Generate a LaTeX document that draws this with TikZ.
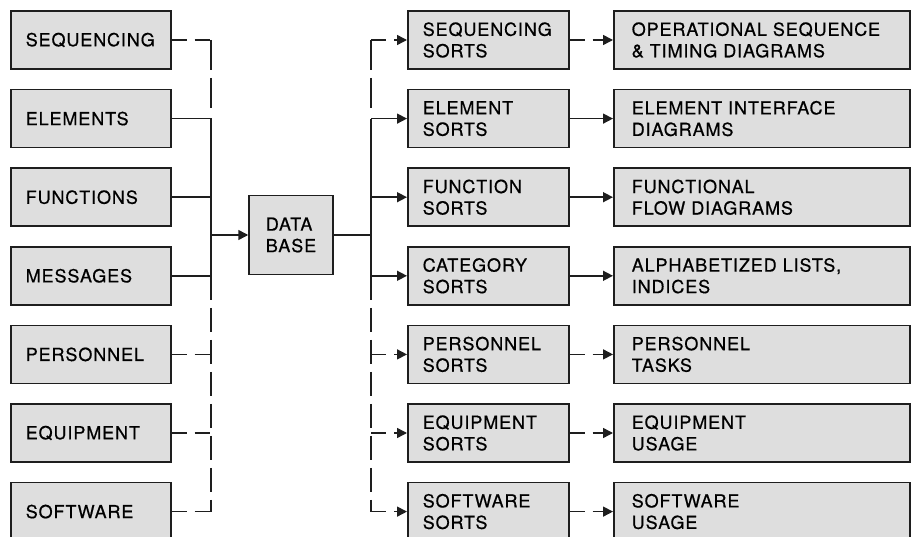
\documentclass[tikz,border=0pt]{standalone}
\usepackage{fontspec}
\setmainfont{TeX Gyre Heros}[LetterSpace=5,FakeBold=0.6]
\usepackage{xcolor}
\usepackage{tikz}
\usetikzlibrary{positioning,arrows.meta}
\definecolor{cFill}{HTML}{DEDEDE}
\definecolor{cInk}{HTML}{1E1E1E}

\begin{document}
\begin{tikzpicture}[x=1pt,y=-1pt,font=\fontsize{18}{21.5}\selectfont,
  box/.style={draw=cInk,line width=1.5pt,fill=cFill,minimum height=58pt,align=left,inner ysep=0pt},
  srcbox/.style={box,text width=130pt,inner xsep=15pt},
  sortbox/.style={box,text width=131pt,inner xsep=15pt},
  prodbox/.style={box,text width=260pt,inner xsep=18pt},
  dbbox/.style={box,minimum width=84pt,minimum height=79pt},
  ln/.style={cInk,line width=1.5pt},
  dln/.style={ln,dash pattern=on 24pt off 8pt},
  dtop/.style={ln,dash pattern=on 30pt off 8pt},
  dbr/.style={ln,dash pattern=on 15pt off 8pt},
  ar/.style={ln,-{Triangle[length=10pt,width=10pt]}},
  dar/.style={ar,dash pattern=on 15pt off 8pt}]
  \useasboundingbox (0,0) rectangle (915,537);
  \clip (0,0) rectangle (915,537);
  % input lists (left)
  \node[srcbox,anchor=west] (seq) at (10,40) {SEQUENCING};
  \node[srcbox,below=19.1pt of seq] (elem) {ELEMENTS};
  \node[srcbox,below=19.1pt of elem] (func) {FUNCTIONS};
  \node[srcbox,below=19.1pt of func] (mess) {MESSAGES};
  \node[srcbox,below=19.1pt of mess] (pers) {PERSONNEL};
  \node[srcbox,below=19.1pt of pers] (equip) {EQUIPMENT};
  \node[srcbox,below=19.1pt of equip] (soft) {SOFTWARE};
  \node[dbbox] (db) at (291,235) {DATA\\BASE};
  % sorts (middle)
  \node[sortbox,right=235.5pt of seq] (sseq) {SEQUENCING\\SORTS};
  \node[sortbox,right=235.5pt of elem] (selem) {ELEMENT\\SORTS};
  \node[sortbox,right=235.5pt of func] (sfunc) {FUNCTION\\SORTS};
  \node[sortbox,right=235.5pt of mess] (scat) {CATEGORY\\SORTS};
  \node[sortbox,right=235.5pt of pers] (spers) {PERSONNEL\\SORTS};
  \node[sortbox,right=235.5pt of equip] (sequip) {EQUIPMENT\\SORTS};
  \node[sortbox,right=235.5pt of soft] (ssoft) {SOFTWARE\\SORTS};
  % products (right)
  \node[prodbox,right=43.5pt of sseq] (pseq) {OPERATIONAL SEQUENCE\\\& TIMING DIAGRAMS};
  \node[prodbox,right=43.5pt of selem] (pelem) {ELEMENT INTERFACE\\DIAGRAMS};
  \node[prodbox,right=43.5pt of sfunc] (pfunc) {FUNCTIONAL\\FLOW DIAGRAMS};
  \node[prodbox,right=43.5pt of scat] (pcat) {ALPHABETIZED LISTS,\\INDICES};
  \node[prodbox,right=43.5pt of spers] (ppers) {PERSONNEL\\TASKS};
  \node[prodbox,right=43.5pt of sequip] (pequip) {EQUIPMENT\\USAGE};
  \node[prodbox,right=43.5pt of ssoft] (psoft) {SOFTWARE\\USAGE};
  % buses
  \coordinate (lbus) at (211,0);
  \coordinate (rbus) at (371,0);
  % left bus into data base
  \draw[dbr] (seq.east) -- (seq.east -| lbus);
  \draw[dtop] (seq.east -| lbus) -- ([yshift=10pt]elem.east -| lbus);
  \draw[ln] (elem.east) -| (mess.east -| lbus) -- (mess.east);
  \draw[ln] (func.east) -- (func.east -| lbus);
  \draw[dln] (mess.east -| lbus) -- (soft.east -| lbus);
  \draw[dbr] (pers.east) -- (pers.east -| lbus);
  \draw[dbr] (equip.east) -- (equip.east -| lbus);
  \draw[dbr] (soft.east) -- (soft.east -| lbus);
  \draw[ar] (db.west -| lbus) -- (db.west);
  % right bus out of data base
  \draw[ln] (db.east) -- (db.east -| rbus);
  \draw[dtop] (sseq.west -| rbus) -- ([yshift=10pt]selem.west -| rbus);
  \draw[ln] (selem.west -| rbus) -- (scat.west -| rbus);
  \draw[dln] (scat.west -| rbus) -- (ssoft.west -| rbus);
  \draw[dar] (sseq.west -| rbus) -- (sseq.west);
  \draw[ar] (selem.west -| rbus) -- (selem.west);
  \draw[ar] (sfunc.west -| rbus) -- (sfunc.west);
  \draw[ar] (scat.west -| rbus) -- (scat.west);
  \draw[dar] (spers.west -| rbus) -- (spers.west);
  \draw[dar] (sequip.west -| rbus) -- (sequip.west);
  \draw[dar] (ssoft.west -| rbus) -- (ssoft.west);
  % sorts to products
  \draw[dar] (sseq) -- (pseq);
  \draw[ar] (selem) -- (pelem);
  \draw[ar] (sfunc) -- (pfunc);
  \draw[ar] (scat) -- (pcat);
  \draw[dar] (spers) -- (ppers);
  \draw[dar] (sequip) -- (pequip);
  \draw[dar] (ssoft) -- (psoft);
\end{tikzpicture}
\end{document}
